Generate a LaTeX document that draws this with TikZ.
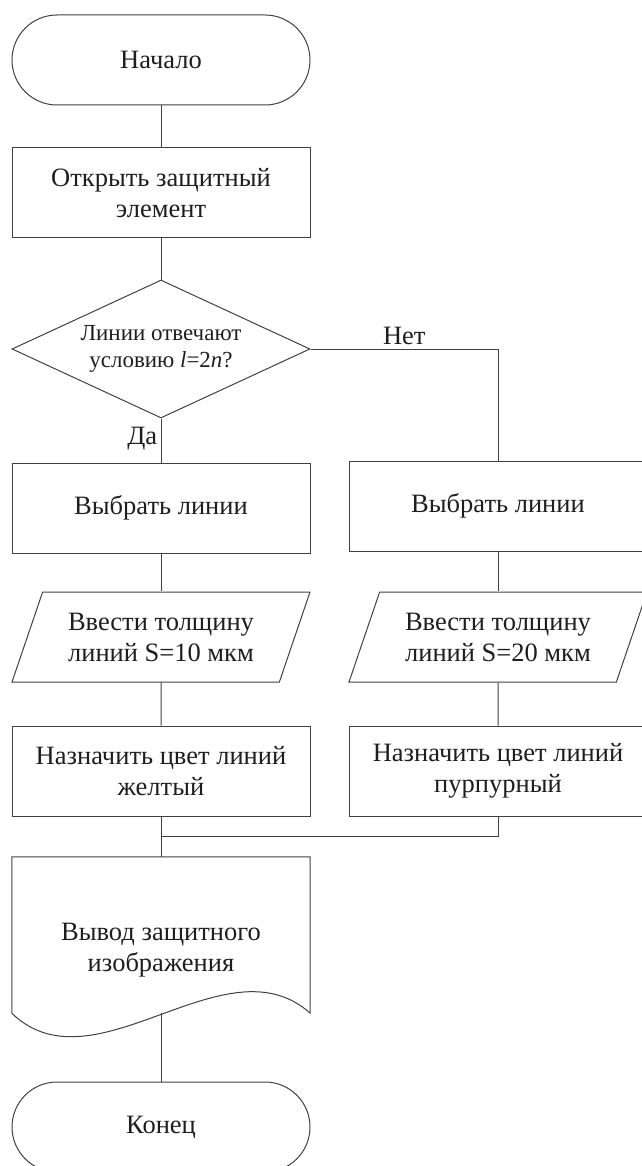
\documentclass[tikz,border=0pt]{standalone}
\usepackage{fontspec}
\setmainfont{Liberation Serif}
\usetikzlibrary{calc,shapes.geometric}
\definecolor{lineGray}{RGB}{64,64,64}
\definecolor{inkDark}{RGB}{30,30,30}

\begin{document}
\begin{tikzpicture}[x=1pt,y=-1pt,
  every node/.style={text=inkDark,font=\fontsize{26.5}{31}\selectfont,align=center},
  termbox/.style={draw=lineGray,line width=1pt,rounded corners=45pt,minimum width=298pt,minimum height=90pt},
  procbox/.style={draw=lineGray,line width=1pt,minimum width=298pt,minimum height=90pt},
  iobox/.style={trapezium,trapezium left angle=61,trapezium right angle=119,trapezium stretches body,draw=lineGray,line width=1pt,minimum width=298pt,minimum height=90pt,inner xsep=2pt},
  decbox/.style={diamond,aspect=2.16,draw=lineGray,line width=1pt,minimum width=298pt,minimum height=138pt,inner sep=0pt,font=\fontsize{23}{27}\selectfont},
  docbox/.style={minimum width=298pt,minimum height=156pt,inner sep=0pt},
  link/.style={draw=lineGray,line width=1pt}]
\path[use as bounding box] (0,0) rectangle (641,1166);

\node[termbox] (start) at (161,60) {Начало};
\node[procbox] (open) at (161,193) {Открыть защитный\\элемент};
\node[decbox] (cond) at (161,349) {Линии отвечают\\условию \textit{l}=2\textit{n}?};

\node[procbox] (selL) at (161,508) {Выбрать линии};
\node[iobox] (thickL) at (161,637) {Ввести толщину\\линий S=10 мкм};
\node[procbox] (colL) at (161,771) {Назначить цвет линий\\желтый};

\node[procbox] (selR) at (498,506) {Выбрать линии};
\node[iobox] (thickR) at (498,637) {Ввести толщину\\линий S=20 мкм};
\node[procbox] (colR) at (498,771) {Назначить цвет линий\\пурпурный};

\node[docbox] (out) at (161,935) {};
\node (outtext) at (161,950) {Вывод защитного\\изображения};
\draw[link] (out.south west) -- (out.north west) -- (out.north east) -- (out.south east)
  .. controls ($(out.south east)+(-85,-76)$) and ($(out.south west)+(83,80)$) .. (out.south west);

\node[termbox] (stop) at (161,1127) {Конец};

\coordinate (join) at (161,836);

\draw[link] (start) -- (open);
\draw[link] (open) -- (cond);
\draw[link] (cond.south) -- node[left,pos=0.45] {Да} (selL.north);
\draw[link] (cond.east) -| node[above,pos=0.25] {Нет} (selR.north);
\draw[link] (selL) -- (thickL);
\draw[link] (thickL) -- (colL);
\draw[link] (selR) -- (thickR);
\draw[link] (thickR) -- (colR);
\draw[link] (colL.south) -- (out.north);
\draw[link] (colR.south) |- (join);
\draw[link] (out.south) -- (stop.north);
\end{tikzpicture}
\end{document}
